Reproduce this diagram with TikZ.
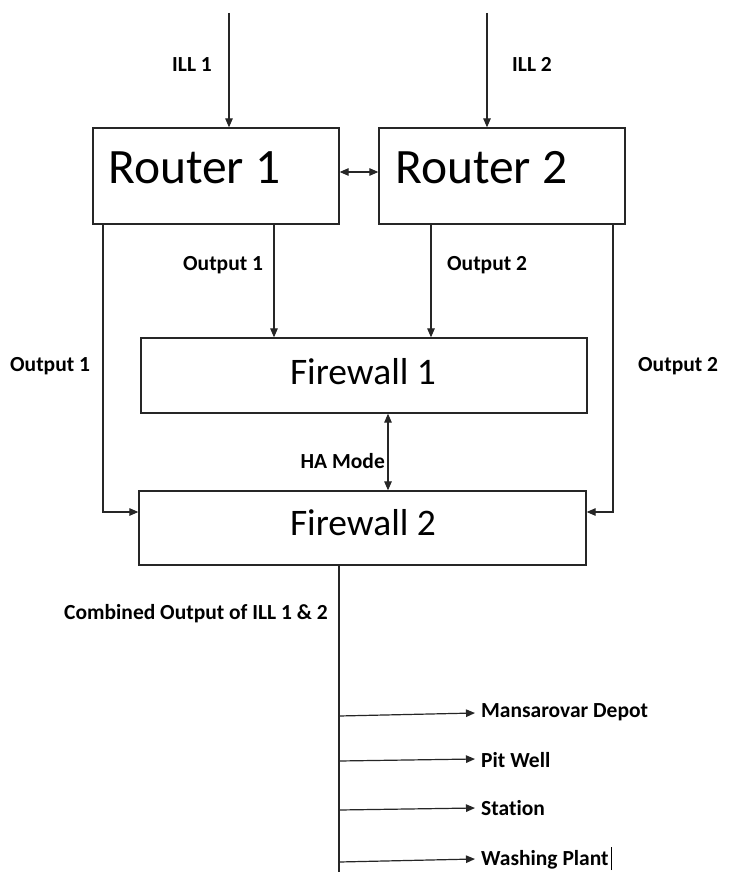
\documentclass[tikz,border=0pt]{standalone}
\usepackage{fontspec}
\setmainfont{Carlito}[Ligatures=NoCommon]
\usetikzlibrary{arrows.meta}
\begin{document}
\begin{tikzpicture}[x=1pt,y=-1pt,
  boxnode/.style={draw=black!85, line width=1.3pt, inner sep=0pt, fill=white},
  bigtext/.style={inner sep=0pt, font=\fontsize{49.5}{58}\selectfont},
  fwtext/.style={inner sep=0pt, font=\fontsize{37.5}{44}\selectfont},
  lbl/.style={inner sep=0pt, font=\fontsize{21.5}{25}\selectfont\bfseries, anchor=base west},
  conn/.style={draw=black!85, line width=1.2pt},
  arr/.style={conn, -{Triangle[length=9pt,width=7.5pt]}},
  arrtwo/.style={conn, {Triangle[length=9pt,width=7.5pt]}-{Triangle[length=9pt,width=7.5pt]}}]
\useasboundingbox (0,0) rectangle (731,872);
\fill[white] (0,0) rectangle (731,872);

% boxes
\node[boxnode, minimum width=246pt, minimum height=96pt] (r1) at (216,176) {};
\node[boxnode, minimum width=246pt, minimum height=96pt] (r2) at (502,176) {};
\node[boxnode, minimum width=446pt, minimum height=75pt] (f1) at (364,375.5) {};
\node[boxnode, minimum width=447pt, minimum height=74pt] (f2) at (362.5,528) {};

% box texts
\node[bigtext, anchor=base west] (r1t) at (108,183) {Router 1};
\node[bigtext, anchor=base west] (r2t) at (395,183) {Router 2};
\node[fwtext, anchor=base] (f1t) at (363,384) {Firewall 1};
\node[fwtext, anchor=base] (f2t) at (363,535) {Firewall 2};

% helper coordinates
\coordinate (i1) at (229,13);
\coordinate (i2) at (487,13);
\coordinate (yR) at (0,172);
\coordinate (xO1) at (274,0);
\coordinate (xO2) at (431,0);
\coordinate (xL) at (103,0);
\coordinate (xR) at (613,0);
\coordinate (yF) at (0,512);
\coordinate (xH) at (388,0);
\coordinate (xB) at (339,0);
\coordinate (bend) at (339,872);
\coordinate (b1s) at (339,716);
\coordinate (b1e) at (475,713);
\coordinate (b2s) at (339,761);
\coordinate (b2e) at (475,759);
\coordinate (b3s) at (339,810);
\coordinate (b3e) at (475,808);
\coordinate (b4s) at (339,862);
\coordinate (b4e) at (475,859);

% connectors
\draw[arr] (i1) -- (i1 |- r1.north);
\draw[arr] (i2) -- (i2 |- r2.north);
\draw[arrtwo] (r1.east |- yR) -- (r2.west |- yR);
\draw[arr] (r1.south -| xO1) -- (f1.north -| xO1);
\draw[arr] (r2.south -| xO2) -- (f1.north -| xO2);
\draw[arr] (r1.south -| xL) |- (f2.west |- yF);
\draw[arr] (r2.south -| xR) |- (f2.east |- yF);
\draw[arrtwo] (f1.south -| xH) -- (f2.north -| xH);
\draw[conn] (f2.south -| xB) -- (bend);
\draw[arr] (b1s) -- (b1e);
\draw[arr] (b2s) -- (b2e);
\draw[arr] (b3s) -- (b3e);
\draw[arr] (b4s) -- (b4e);

% labels
\node[lbl] (l1) at (172,72) {ILL 1};
\node[lbl] (l2) at (512,72) {ILL 2};
\node[lbl] (lo1) at (183,270) {Output 1};
\node[lbl] (lo2) at (447,270) {Output 2};
\node[lbl] (ls1) at (10,371) {Output 1};
\node[lbl] (ls2) at (638,371) {Output 2};
\node[lbl, anchor=base east] (lha) at (385,468) {HA Mode};
\node[lbl] (lc) at (64,619) {Combined Output of ILL 1 \& 2};
\node[lbl] (d1) at (481,717) {Mansarovar Depot};
\node[lbl] (d2) at (481,767) {Pit Well};
\node[lbl] (d3) at (481,815) {Station};
\node[lbl] (d4) at (481,865) {Washing Plant};
\draw[line width=1.6pt] ([xshift=2.5pt]d4.base east) ++(0,5) -- ++(0,-23);
\end{tikzpicture}
\end{document}
